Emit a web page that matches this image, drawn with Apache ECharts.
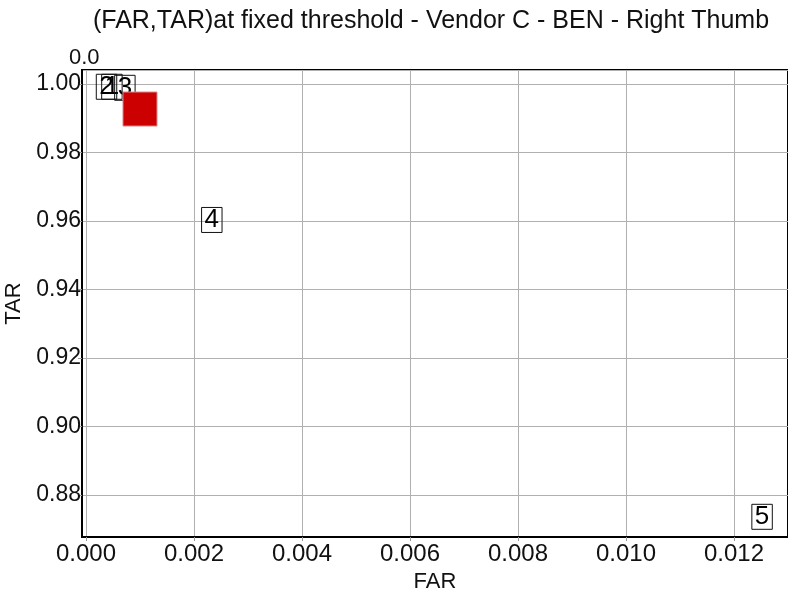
<!DOCTYPE html>
<html>
<head>
<meta charset="utf-8">
<script src="https://cdn.jsdelivr.net/npm/echarts@6/dist/echarts.min.js"></script>
<style>html,body{margin:0;padding:0;background:#fff}#main{width:788px;height:595px}</style>
</head>
<body>
<div id="main"></div>
<script>
var pointNames = ["1", "2", "3", "4", "5"];
var pointFar = [0.00048, 0.00038, 0.00072, 0.00233, 0.01252];
var pointTar = [0.9992, 0.9992, 0.9989, 0.9603, 0.8736];
var meanPoint = [0.00100, 0.9927];

var dom = document.getElementById("main");
var myChart = echarts.init(dom);
var font = "Liberation Sans";

var labelled = pointNames.map(function (n, i) {
    return { name: n, value: [pointFar[i], pointTar[i]] };
});

option = {
    backgroundColor: "#fff",
    animation: false,
    textStyle: { fontFamily: font },
    title: {
        text: "(FAR,TAR)at fixed threshold - Vendor C - BEN - Right Thumb",
        left: 426, top: 4, textAlign: "center",
        textStyle: { fontFamily: font, fontSize: 25, fontWeight: "normal", color: "#111" }
    },
    graphic: [{
        type: "text", left: 69, top: 47,
        style: { text: "0.0", fontFamily: font, fontSize: 22, fill: "#111" }
    }],
    grid: {
        left: 82, top: 70, right: 0, bottom: 58,
        outerBoundsMode: "none", containLabel: false,
        show: true, borderColor: "#000", borderWidth: 2
    },
    xAxis: {
        type: "value", min: -0.000074, max: 0.0130, splitNumber: 6,
        name: "FAR", nameLocation: "middle", nameGap: 32,
        nameTextStyle: { fontFamily: font, fontSize: 22, color: "#111" },
        axisLine: { show: true, onZero: false, lineStyle: { color: "#000", width: 2 } },
        axisTick: { show: true, length: 4, lineStyle: { color: "#999" } },
        splitLine: { show: true, lineStyle: { color: "#b0b0b0", width: 1 } },
        axisLabel: {
            showMinLabel: false, showMaxLabel: false, margin: 5,
            fontFamily: font, fontSize: 24, color: "#111",
            formatter: function (v) { return v.toFixed(3); }
        }
    },
    yAxis: {
        type: "value", min: 0.8677, max: 1.0041, splitNumber: 7,
        name: "TAR", nameLocation: "middle", nameGap: 44, nameRotate: 90,
        nameTextStyle: { fontFamily: font, fontSize: 22, color: "#111" },
        axisLine: { show: true, onZero: false, lineStyle: { color: "#000", width: 2 } },
        axisTick: { show: true, length: 4, lineStyle: { color: "#999" } },
        splitLine: { show: true, lineStyle: { color: "#b0b0b0", width: 1 } },
        axisLabel: {
            showMinLabel: false, showMaxLabel: false, margin: 1,
            fontFamily: font, fontSize: 23, color: "#111",
            padding: [8, 0, 0, 0],
            formatter: function (v) { return v.toFixed(2); }
        }
    },
    series: [{
        type: "scatter",
        data: labelled,
        symbolSize: 1,
        itemStyle: { color: "rgba(0,0,0,0)", opacity: 1 },
        label: {
            show: true, position: "inside",
            formatter: "{b}",
            fontFamily: font, fontSize: 26, color: "#000",
            borderColor: "#111", borderWidth: 1,
            padding: [1, 3, 0, 3], lineHeight: 24
        },
        z: 2
    }, {
        type: "scatter",
        data: [meanPoint],
        symbol: "rect",
        symbolSize: 34,
        itemStyle: { color: "#cc0000", opacity: 1, borderColor: "#d88", borderWidth: 1 },
        z: 3
    }]
};
if (option && typeof option === "object") {
    myChart.setOption(option, true);
}
</script>
</body>
</html>
